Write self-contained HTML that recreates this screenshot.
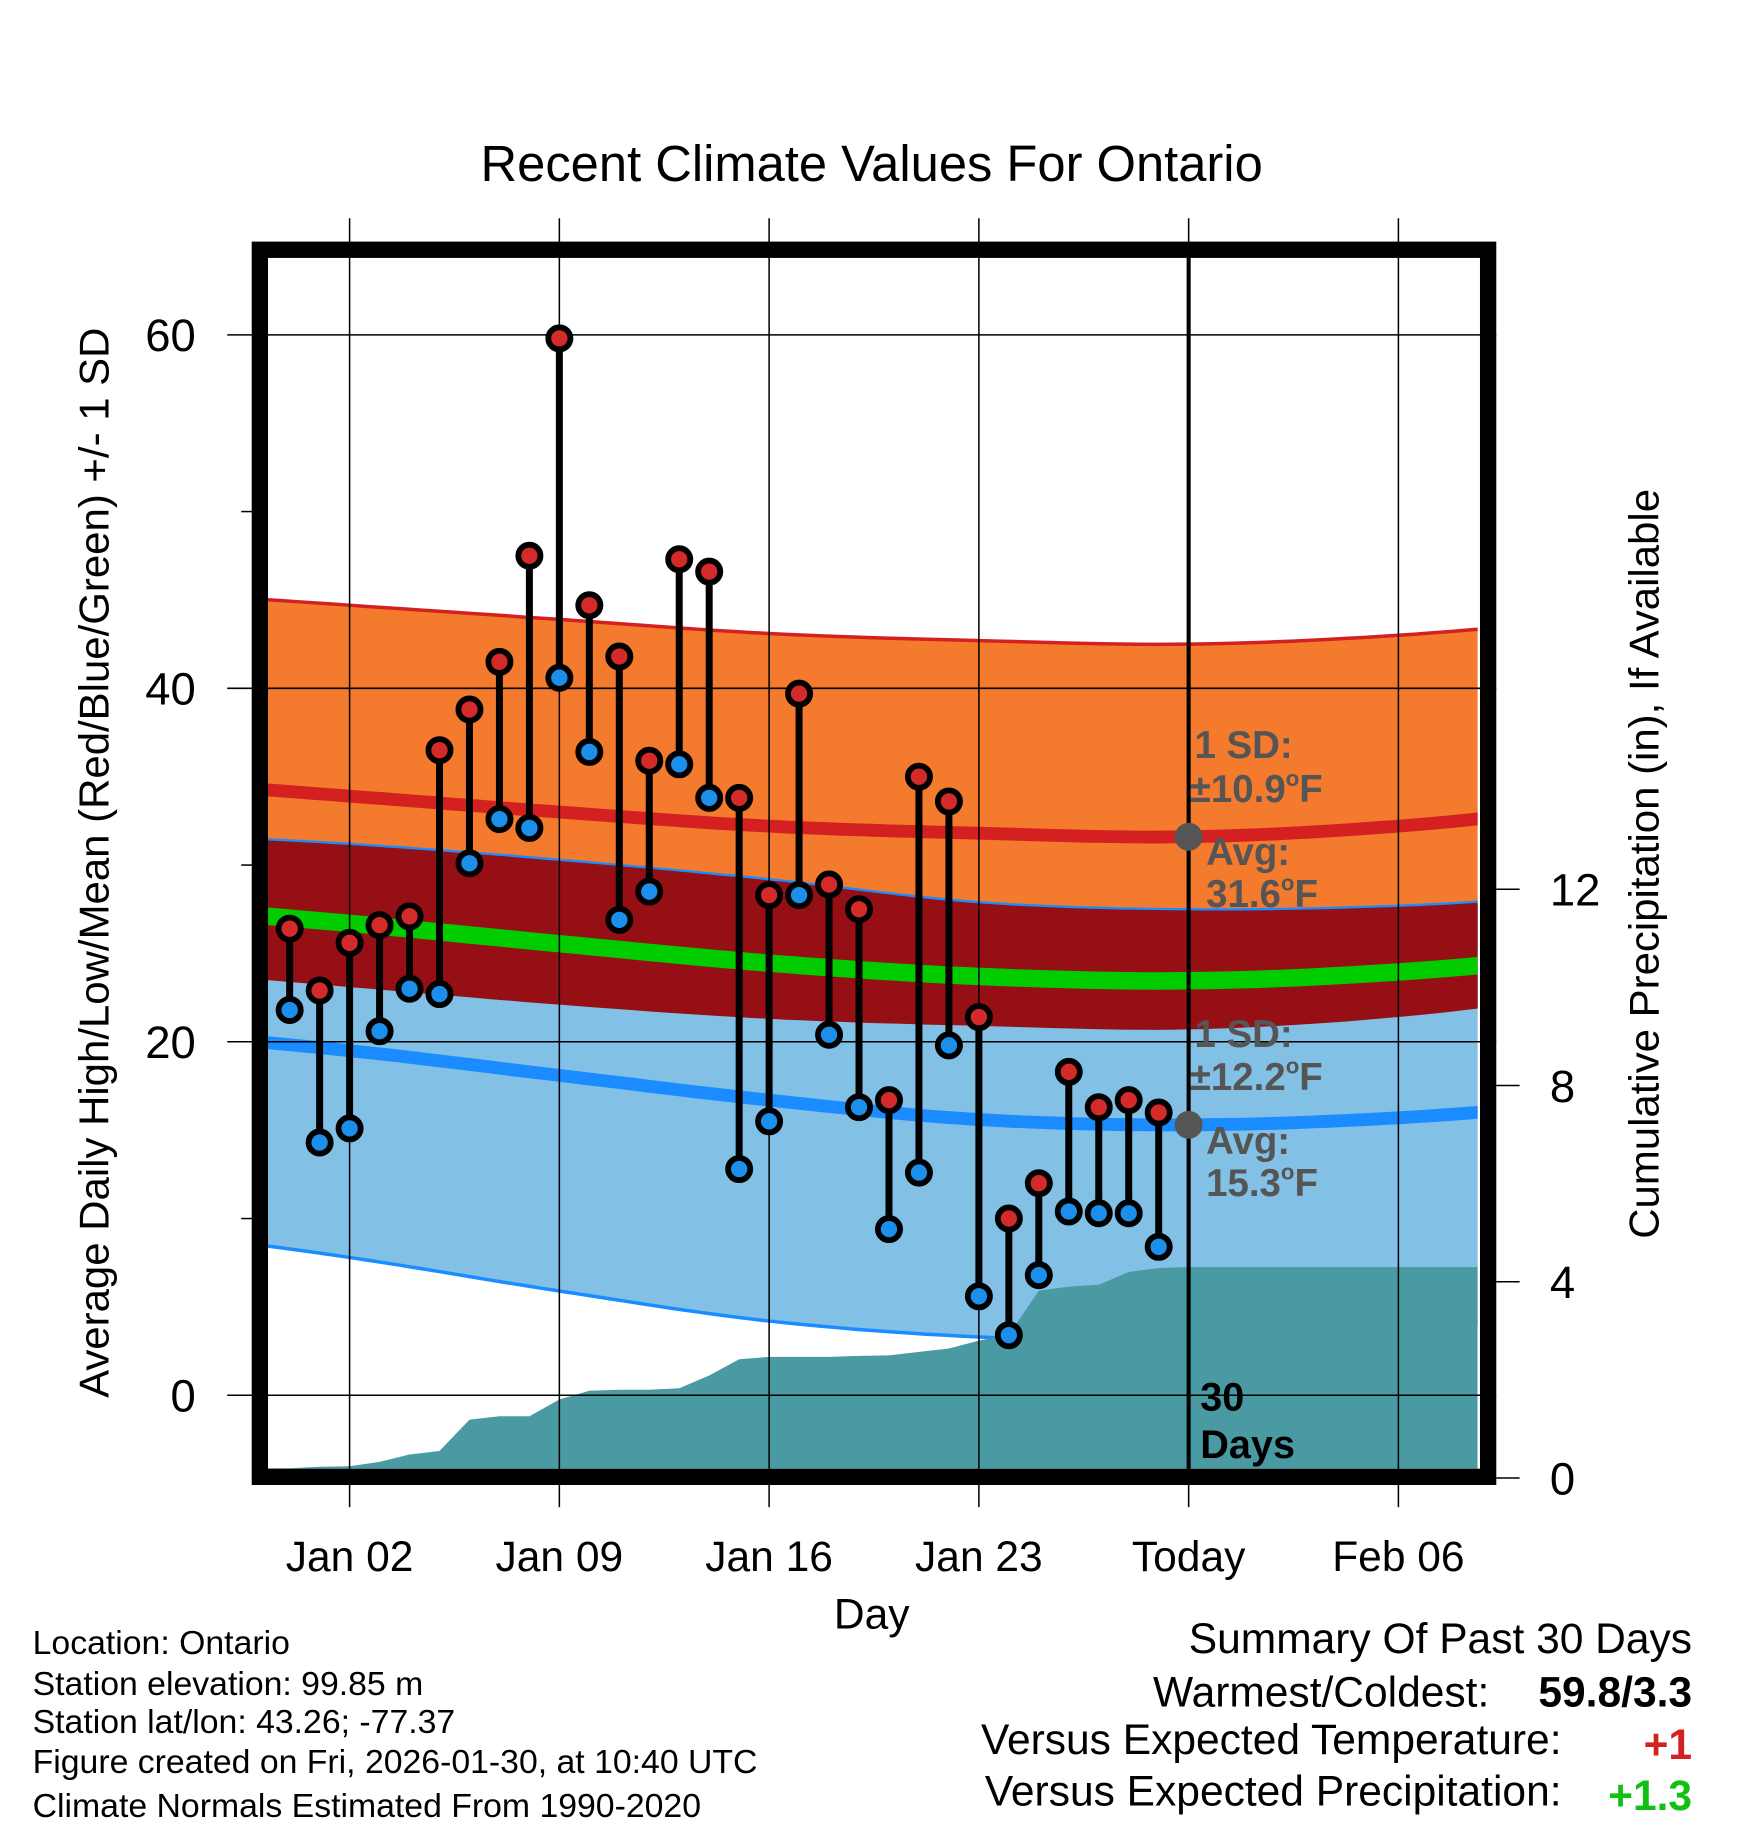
<!DOCTYPE html>
<html><head><meta charset="utf-8"><style>
html,body{margin:0;padding:0;background:#fff}
svg{display:block;font-family:"Liberation Sans",sans-serif}
</style></head><body>
<svg id="chart" width="1748" height="1828" viewBox="0 0 1500 1568" xmlns="http://www.w3.org/2000/svg">
<defs><clipPath id="plotclip"><rect x="230" y="221" width="1038" height="1039"/></clipPath></defs>
<rect width="1500" height="1568" fill="#fff"/>
<text x="748" y="155" font-size="43.5" text-anchor="middle">Recent Climate Values For Ontario</text>
<g id="bands" clip-path="url(#plotclip)"></g>
<g id="grid"></g>
<g id="marks"></g>
<g id="frame"></g>
<g id="labels"></g>
</svg>
<script>
// ---- data ----
const dayLabels = ["Jan 02","Jan 09","Jan 16","Jan 23","Today","Feb 06"];
const dayLabelPos = [0,7,14,21,28,35];
const highs = [26.4,22.9,25.6,26.6,27.1,36.5,38.8,41.5,47.5,59.8,44.7,41.8,35.9,47.3,46.6,33.8,28.3,39.7,28.9,27.5,16.7,35.0,33.6,21.4,10.0,12.0,18.3,16.3,16.7,16.0];
const lows  = [21.8,14.3,15.1,20.6,23.0,22.7,30.1,32.6,32.1,40.6,36.4,26.9,28.5,35.7,33.8,12.8,15.5,28.3,20.4,16.3,9.4,12.6,19.8,5.6,3.4,6.8,10.4,10.3,10.3,8.4];
const normDays = [-7,0,7,14,21,28,35,42];
const highNorm = [34.8,33.9,33.0,32.2,31.8,31.6,32.2,33.4];
const highSD   = [10.7,10.8,10.9,10.9,10.9,10.9,10.8,10.6];
const lowNorm  = [20.6,19.5,18.1,16.7,15.6,15.3,15.7,16.6];
const lowSD    = [11.2,11.7,12.2,12.5,12.3,12.2,12.0,11.8];
const precip = [0.2,0.23,0.24,0.33,0.48,0.55,1.19,1.26,1.26,1.6,1.78,1.8,1.8,1.83,2.09,2.42,2.47,2.47,2.47,2.49,2.5,2.57,2.64,2.8,2.92,3.82,3.9,3.94,4.2,4.28,4.3];
const yTicks = [0,20,40,60];
const yMinor = [10,30,50];
const pTicks = [0,4,8,12];
// ---- axes ----
const X0=230,X1=1268,Y0=221,Y1=1260;
const xS = d => 300 + d*180/7;
const yS = t => 1197 - t*(1197-287)/60;
const pS = p => 1268 - p*42.1;
const NS="http://www.w3.org/2000/svg";
function mk(tag,attrs,parent,text){const e=document.createElementNS(NS,tag);for(const k in attrs)e.setAttribute(k,attrs[k]);if(text!==undefined)e.textContent=text;parent.appendChild(e);return e;}
const bands=document.getElementById('bands'),grid=document.getElementById('grid'),marks=document.getElementById('marks'),frame=document.getElementById('frame'),labels=document.getElementById('labels');
function curve(vals){let pts=[];const n=vals.length;for(let i=0;i<n-1;i++){for(let s=0;s<12;s++){const t=s/12;const p1=vals[i],p2=vals[i+1];const p0=i>0?vals[i-1]:2*p1-p2;const p3=i+2<n?vals[i+2]:2*p2-p1;const v=0.5*((2*p1)+(-p0+p2)*t+(2*p0-5*p1+4*p2-p3)*t*t+(-p0+3*p1-3*p2+p3)*t*t*t);const d=normDays[i]+(normDays[i+1]-normDays[i])*t;pts.push([xS(d),yS(v)]);}}pts.push([xS(normDays[n-1]),yS(vals[n-1])]);return pts;}
const hiTop=curve(highNorm.map((v,i)=>v+highSD[i])),hiBot=curve(highNorm.map((v,i)=>v-highSD[i]));
const loTop=curve(lowNorm.map((v,i)=>v+lowSD[i])),loBot=curve(lowNorm.map((v,i)=>v-lowSD[i]));
const meanC=curve(highNorm.map((v,i)=>(v+lowNorm[i])/2));
const ps=p=>p.map(q=>q[0].toFixed(1)+','+q[1].toFixed(1)).join(' ');
const area=(a,b)=>ps(a)+' '+ps(b.slice().reverse());
let e;
e=mk('polygon',{points:area(hiTop,hiBot),fill:'#f47a2d'},bands);


e=mk('polygon',{points:area(loTop,loBot),fill:'#82c0e6'},bands);


e=mk('polygon',{points:area(loTop,hiBot),fill:'#960f14'},bands);


e=mk('polyline',{points:ps(hiTop),fill:'none',stroke:'#d42020','stroke-width':3},bands);


e=mk('polyline',{points:ps(loTop),fill:'none',stroke:'#1a8cff','stroke-width':2},bands);


e=mk('polyline',{points:ps(loBot),fill:'none',stroke:'#1a8cff','stroke-width':3},bands);


e=mk('polyline',{points:ps(curve(highNorm)),fill:'none',stroke:'#d42020','stroke-width':11},bands);


e=mk('polyline',{points:ps(curve(lowNorm)),fill:'none',stroke:'#1a8cff','stroke-width':11},bands);


e=mk('polyline',{points:ps(meanC),fill:'none',stroke:'#00cc00','stroke-width':15},bands);


let pp=[[X0,pS(precip[0])]];precip.forEach((p,i)=>pp.push([xS(i-2),pS(p)]));pp.push([X1,pS(precip[precip.length-1])]);pp.push([X1,Y1]);pp.push([X0,Y1]);
e=mk('polygon',{points:ps(pp),fill:'#4a9aa4'},bands);


yTicks.forEach(t=>{const y=yS(t);
e=mk('line',{x1:195,x2:1284,y1:y,y2:y,stroke:'#000','stroke-width':1.3},grid);


e=mk('text',{x:168,y:y+14,'font-size':39,'text-anchor':'end'},labels,String(t));

});
yMinor.forEach(t=>{const y=yS(t);
e=mk('line',{x1:207,x2:218,y1:y,y2:y,stroke:'#000','stroke-width':1.3},grid);

});
dayLabelPos.forEach((d,i)=>{const x=xS(d);
e=mk('line',{x1:x,x2:x,y1:187,y2:1293,stroke:'#000','stroke-width':1.3},grid);


e=mk('text',{x:x,y:1348,'font-size':36.5,'text-anchor':'middle'},labels,dayLabels[i]);

});
pTicks.forEach(p=>{const y=pS(p);
e=mk('line',{x1:1284,x2:1304,y1:y,y2:y,stroke:'#000','stroke-width':1.3},grid);


e=mk('text',{x:1330,y:y+14,'font-size':39},labels,String(p));

});
e=mk('line',{x1:xS(28),x2:xS(28),y1:Y0,y2:Y1,stroke:'#000','stroke-width':3.5},marks);


e=mk('circle',{cx:xS(28),cy:yS(highNorm[5]),r:12,fill:'#555'},marks);


e=mk('circle',{cx:xS(28),cy:yS(lowNorm[5]),r:12,fill:'#555'},marks);


highs.forEach((h,i)=>{const x=xS(i-2);
e=mk('line',{x1:x,x2:x,y1:yS(h),y2:yS(lows[i]),stroke:'#000','stroke-width':6},marks);

});
highs.forEach((h,i)=>{const x=xS(i-2);
e=mk('circle',{cx:x,cy:yS(h),r:9.5,fill:'#d42a2a',stroke:'#000','stroke-width':5},marks);


e=mk('circle',{cx:x,cy:yS(lows[i]),r:9.5,fill:'#1b8fea',stroke:'#000','stroke-width':5},marks);

});
e=mk('rect',{x:223,y:214,width:1054,height:1053,fill:'none',stroke:'#000','stroke-width':14},frame);


</script>
<script>
const L=document.getElementById('labels');
L.insertAdjacentHTML('beforeend',`
<g fill="#555" font-weight="bold" font-size="33">
<text x="1025" y="650">1 SD:</text>
<text x="1021" y="688">±10.9<tspan font-size="19" dy="-14">o</tspan><tspan dy="14">F</tspan></text>
<text x="1035" y="742">Avg:</text>
<text x="1035" y="778">31.6<tspan font-size="19" dy="-14">o</tspan><tspan dy="14">F</tspan></text>
</g>
<g fill="#555" font-weight="bold" font-size="33">
<text x="1025" y="898">1 SD:</text>
<text x="1021" y="935">±12.2<tspan font-size="19" dy="-14">o</tspan><tspan dy="14">F</tspan></text>
<text x="1035" y="990">Avg:</text>
<text x="1035" y="1026">15.3<tspan font-size="19" dy="-14">o</tspan><tspan dy="14">F</tspan></text>
</g>
<g font-weight="bold" font-size="34">
<text x="1030" y="1210">30</text><text x="1030" y="1251">Days</text>
</g>
<text x="748" y="1397" font-size="36.5" text-anchor="middle">Day</text>
<text transform="translate(93,740) rotate(-90)" font-size="36" text-anchor="middle">Average Daily High/Low/Mean (Red/Blue/Green) +/- 1 SD</text>
<text transform="translate(1423,741) rotate(-90)" font-size="36" text-anchor="middle">Cumulative Precipitation (in), If Available</text>
<g font-size="29">
<text x="28" y="1419">Location: Ontario</text>
<text x="28" y="1454">Station elevation: 99.85 m</text>
<text x="28" y="1487">Station lat/lon: 43.26; -77.37</text>
<text x="28" y="1521">Figure created on Fri, 2026-01-30, at 10:40 UTC</text>
<text x="28" y="1559">Climate Normals Estimated From 1990-2020</text>
</g>
<g font-size="36.5">
<text x="1452" y="1418" text-anchor="end">Summary Of Past 30 Days</text>
<text x="1278" y="1464" text-anchor="end">Warmest/Coldest:</text>
<text x="1452" y="1464" text-anchor="end" font-weight="bold">59.8/3.3</text>
<text x="1340" y="1505" text-anchor="end">Versus Expected Temperature:</text>
<text x="1452" y="1509" text-anchor="end" font-weight="bold" fill="#d42020">+1</text>
<text x="1340" y="1549" text-anchor="end">Versus Expected Precipitation:</text>
<text x="1452" y="1553" text-anchor="end" font-weight="bold" fill="#11c011">+1.3</text>
</g>`);
</script>
</body></html>
